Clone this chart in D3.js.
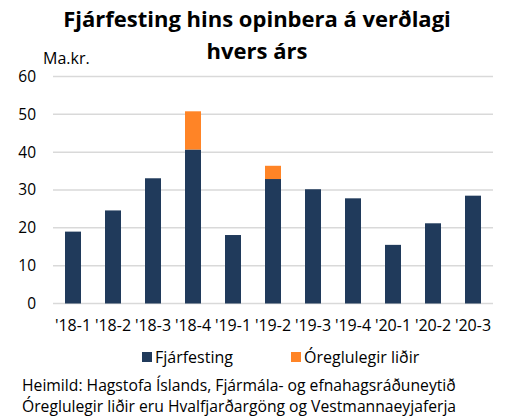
<!DOCTYPE html>
<html><head><meta charset="utf-8">
<script src="https://cdn.jsdelivr.net/npm/d3@7"></script>
<style>body{margin:0;background:#fff}svg{display:block;font-family:"Open Sans",sans-serif}</style>
</head><body>
<script>
const categories = ["'18-1","'18-2","'18-3","'18-4","'19-1","'19-2","'19-3","'19-4","'20-1","'20-2","'20-3"];
const fjarfesting = [19.0, 24.6, 33.1, 40.7, 18.1, 32.9, 30.2, 27.8, 15.5, 21.2, 28.5];
const oreglulegir = [0, 0, 0, 10.1, 0, 3.5, 0, 0, 0, 0, 0];
const seriesNames = ["Fjárfesting", "Óreglulegir liðir"];
const colors = ["#203a5b", "#ff8426"];
const yTicks = [0,10,20,30,40,50,60];
const FONT = "'Open Sans',sans-serif";

const W = 507, H = 419;
const svg = d3.select("body").append("svg").attr("width", W).attr("height", H);
const x = d3.scaleBand().domain(categories).range([53, 493]).paddingInner(0.6).paddingOuter(0.3);
const y = d3.scaleLinear().domain([0, 60]).range([303.5, 76.5]);

svg.append("g").selectAll("line").data(yTicks).join("line")
  .attr("x1", 53).attr("x2", 493).attr("y1", d => y(d)).attr("y2", d => y(d))
  .attr("stroke", "#d9d9d9").attr("stroke-width", 1.5);

const yAxis = svg.append("g").attr("transform", "translate(36,0)")
  .call(d3.axisLeft(y).tickValues(yTicks).tickSize(0).tickPadding(0));
yAxis.select(".domain").remove();
yAxis.selectAll("text").attr("font-size", 15.5).attr("fill", "#000").attr("font-family", FONT);

const stackData = categories.map((c, i) => ({cat: c, a: fjarfesting[i], b: oreglulegir[i]}));
const stack = d3.stack().keys(["a", "b"])(stackData);
svg.append("g").selectAll("g").data(stack).join("g")
  .attr("fill", (d, i) => colors[i])
  .selectAll("rect").data(d => d.filter(s => s[1] - s[0] > 0)).join("rect")
  .attr("x", d => x(d.data.cat)).attr("width", x.bandwidth())
  .attr("y", d => y(d[1])).attr("height", d => y(d[0]) - y(d[1]));

const xAxis = svg.append("g").attr("transform", "translate(0,320)")
  .call(d3.axisBottom(x).tickSize(0).tickPadding(0));
xAxis.select(".domain").remove();
xAxis.selectAll("text").attr("font-size", 16).attr("fill", "#000").attr("font-family", FONT);

svg.append("text").attr("x", 257).attr("y", 27).attr("text-anchor", "middle")
  .attr("font-size", 22).attr("font-weight", "bold").text("Fjárfesting hins opinbera á verðlagi");
svg.append("text").attr("x", 257).attr("y", 59).attr("text-anchor", "middle")
  .attr("font-size", 22).attr("font-weight", "bold").text("hvers árs");
svg.append("text").attr("x", 43).attr("y", 64).attr("font-size", 16).text("Ma.kr.");

const legX = [142, 291];
seriesNames.forEach((n, i) => {
  svg.append("rect").attr("x", legX[i]).attr("y", 352).attr("width", 10).attr("height", 10).attr("fill", colors[i]);
  svg.append("text").attr("x", legX[i] + 13).attr("y", 363).attr("font-size", 16).text(n);
});

svg.append("text").attr("x", 22).attr("y", 391).attr("font-size", 15.7).text("Heimild: Hagstofa Íslands, Fjármála- og efnahagsráðuneytið");
svg.append("text").attr("x", 22).attr("y", 412).attr("font-size", 15.7).text("Óreglulegir liðir eru Hvalfjarðargöng og Vestmannaeyjaferja");
</script>
</body></html>
